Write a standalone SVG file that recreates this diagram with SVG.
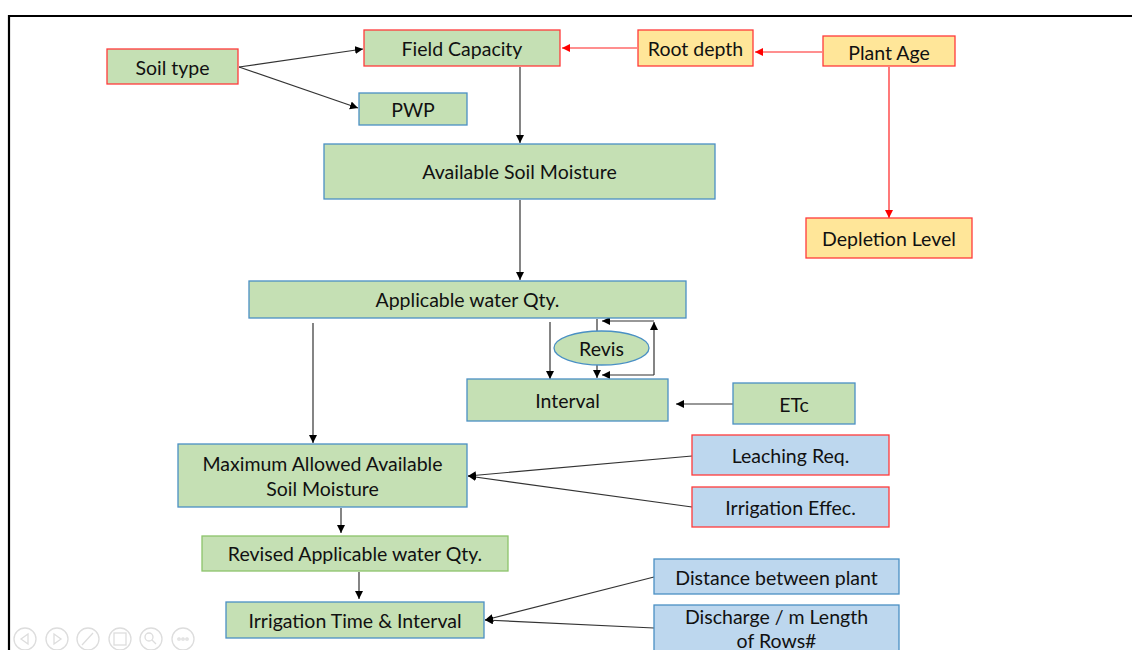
<svg xmlns="http://www.w3.org/2000/svg" width="1132" height="650" viewBox="0 0 1132 650">
<defs>
<marker id="ab" markerUnits="userSpaceOnUse" markerWidth="10" markerHeight="10" refX="8" refY="4" orient="auto"><path d="M0,0 L8,4 L0,8 z" fill="#000"/></marker>
<marker id="ar" markerUnits="userSpaceOnUse" markerWidth="10" markerHeight="10" refX="8" refY="4" orient="auto"><path d="M0,0 L8,4 L0,8 z" fill="#FF0000"/></marker>
<style>
text{font-family:Lato,"Liberation Sans",sans-serif;font-size:19.5px;fill:#111;text-anchor:middle;dominant-baseline:central}
.g{fill:#C5E0B4}
.y{fill:#FFE699}
.b{fill:#BDD7EE}
.sr{stroke:#FF3B3B;stroke-width:1.3}
.sb{stroke:#4A90C4;stroke-width:1.3}
.sg{stroke:#8CC46A;stroke-width:1.3}
.c{stroke:#333;stroke-width:1.2;fill:none;marker-end:url(#ab)}
.l{stroke:#333;stroke-width:1.2;fill:none}
.cr{stroke:#FF2020;stroke-width:1.2;fill:none;marker-end:url(#ar)}
.ic{fill:none;stroke:#DDDDDD;stroke-width:1.3}
</style>
</defs>
<rect width="1132" height="650" fill="#fff"/>
<path d="M9,650 L9,16 L1132,16" fill="none" stroke="#000" stroke-width="2.2"/>

<g id="connectors">
<path class="c" d="M239,67 L363,49"/>
<path class="c" d="M239,67 L358,108"/>
<path class="cr" d="M637,48 L562,48"/>
<path class="cr" d="M822,52 L755,52"/>
<path class="cr" d="M889,67 L889,218"/>
<path class="c" d="M520,67 L520,143"/>
<path class="c" d="M520,200 L520,280"/>
<path class="c" d="M313,323 L313,443"/>
<path class="c" d="M550,322 L550,379"/>
<path class="l" d="M597,319 L597,331"/>
<path class="c" d="M597,365 L597,378"/>
<path class="c" d="M654,375 L602,375"/>
<path class="c" d="M654,375 L654,322"/>
<path class="c" d="M654,321 L602,321"/>
<path class="c" d="M733,404 L676,404"/>
<path class="c" d="M692,456 L468,476"/>
<path class="c" d="M692,507 L468,476"/>
<path class="c" d="M341,508 L341,533"/>
<path class="c" d="M359,572 L359,599"/>
<path class="c" d="M654,577 L485,620"/>
<path class="c" d="M654,628 L485,620"/>
</g>

<g id="soil-type"><rect class="g sr" x="107" y="49" width="131" height="35"/><text x="172.5" y="67">Soil type</text></g>
<g id="field-capacity"><rect class="g sr" x="364" y="30" width="196" height="36"/><text x="462" y="48">Field Capacity</text></g>
<g id="pwp"><rect class="g sb" x="359" y="93" width="108" height="32"/><text x="413" y="109">PWP</text></g>
<g id="root-depth"><rect class="y sr" x="638" y="30" width="115" height="36"/><text x="695.5" y="48">Root depth</text></g>
<g id="plant-age"><rect class="y sr" x="823" y="36" width="132" height="30"/><text x="889" y="52">Plant Age</text></g>
<g id="depletion-level"><rect class="y sr" x="806" y="218" width="166" height="40"/><text x="889" y="238">Depletion Level</text></g>
<g id="available-soil-moisture"><rect class="g sb" x="324" y="144" width="391" height="55"/><text x="519.5" y="171.5">Available Soil Moisture</text></g>
<g id="applicable-water"><rect class="g sb" x="249" y="281" width="437" height="37"/><text x="467.5" y="299.5">Applicable water Qty.</text></g>
<g id="revis"><ellipse class="g sb" cx="601.5" cy="348" rx="47.5" ry="17"/><text x="601.5" y="348">Revis</text></g>
<g id="interval"><rect class="g sb" x="467" y="379" width="201" height="42"/><text x="567.5" y="400">Interval</text></g>
<g id="etc"><rect class="g sb" x="733" y="383" width="122" height="41"/><text x="794" y="404">ETc</text></g>
<g id="max-allowed"><rect class="g sb" x="178" y="444" width="289" height="63"/><text x="322.5" y="463">Maximum Allowed Available</text><text x="322.5" y="488">Soil Moisture</text></g>
<g id="leaching-req"><rect class="b sr" x="692" y="435" width="197" height="40"/><text x="790.5" y="455.5">Leaching Req.</text></g>
<g id="irrigation-effec"><rect class="b sr" x="692" y="487" width="197" height="40"/><text x="790.5" y="507.5">Irrigation Effec.</text></g>
<g id="revised-applicable"><rect class="g sg" x="202" y="536" width="306" height="35"/><text x="355" y="553.5">Revised Applicable water Qty.</text></g>
<g id="irrigation-time"><rect class="g sb" x="226" y="602" width="258" height="36"/><text x="355" y="620">Irrigation Time &amp; Interval</text></g>
<g id="distance"><rect class="b sb" x="654" y="559" width="245" height="35"/><text x="776.5" y="577">Distance between plant</text></g>
<g id="discharge"><rect class="b sb" x="654" y="605" width="245" height="60"/><text x="776.5" y="616">Discharge / m Length</text><text x="776.5" y="640">of Rows#</text></g>

<g id="slide-controls">
<circle class="ic" cx="25" cy="639" r="11"/><path class="ic" d="M28,634 L21,639 L28,644 z"/>
<circle class="ic" cx="57" cy="639" r="11"/><path class="ic" d="M54,634 L61,639 L54,644 z"/>
<circle class="ic" cx="88" cy="639" r="11"/><path class="ic" d="M82,645 L93,633"/>
<circle class="ic" cx="120" cy="639" r="11"/><rect class="ic" x="114" y="633" width="12" height="12"/>
<circle class="ic" cx="151" cy="639" r="11"/><circle class="ic" cx="149" cy="637" r="4"/><path class="ic" d="M152,640 L156,644"/>
<circle class="ic" cx="183" cy="639" r="11"/><circle class="ic" cx="179" cy="639" r="1.2"/><circle class="ic" cx="183" cy="639" r="1.2"/><circle class="ic" cx="187" cy="639" r="1.2"/>
</g>
</svg>
